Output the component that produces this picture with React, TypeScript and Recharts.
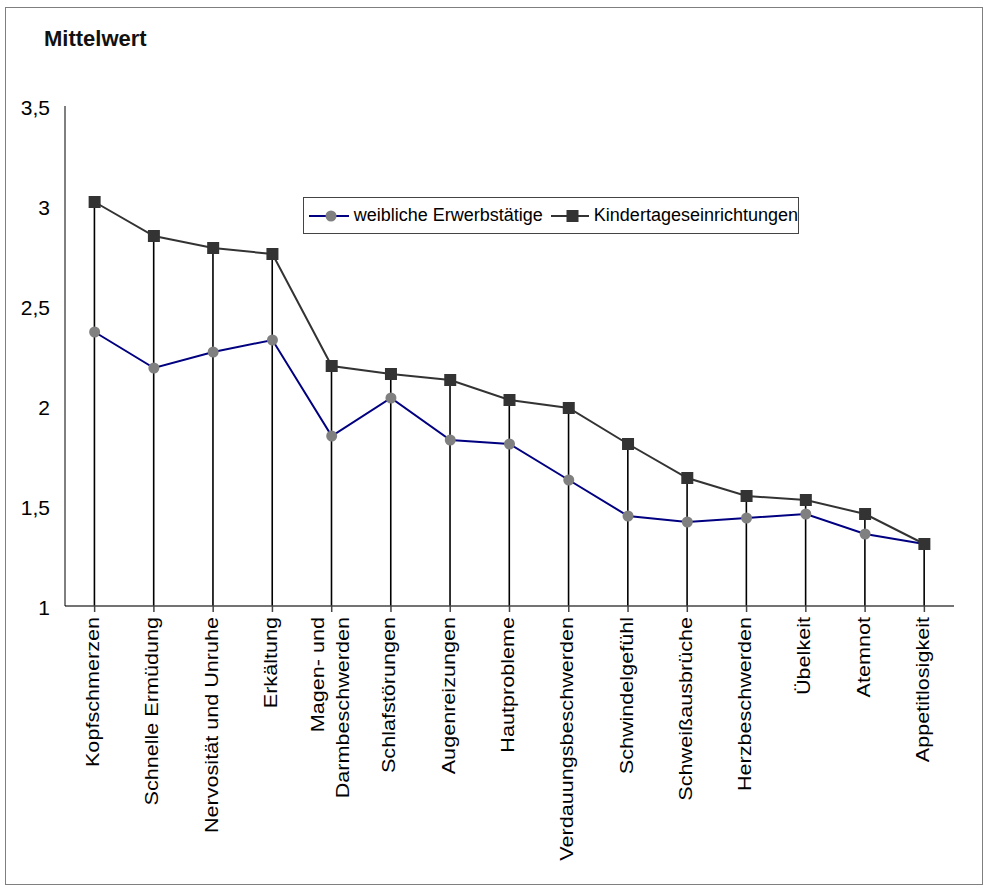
import { Bar, ComposedChart, Line, XAxis, YAxis } from 'recharts';

const categories = [
  'Kopfschmerzen',
  'Schnelle Ermüdung',
  'Nervosität und Unruhe',
  'Erkältung',
  'Magen- und\nDarmbeschwerden',
  'Schlafstörungen',
  'Augenreizungen',
  'Hautprobleme',
  'Verdauungsbeschwerden',
  'Schwindelgefühl',
  'Schweißausbrüche',
  'Herzbeschwerden',
  'Übelkeit',
  'Atemnot',
  'Appetitlosigkeit',
];

const weiblich = [2.37, 2.19, 2.27, 2.33, 1.85, 2.04, 1.83, 1.81, 1.63, 1.45, 1.42, 1.44, 1.46, 1.36, 1.31];
const kita = [3.02, 2.85, 2.79, 2.76, 2.2, 2.16, 2.13, 2.03, 1.99, 1.81, 1.64, 1.55, 1.53, 1.46, 1.31];

const yTicks = [1, 1.5, 2, 2.5, 3, 3.5];

const seriesNames = ['weibliche Erwerbstätige', 'Kindertageseinrichtungen'];

const data = categories.map((name, i) => ({ name, weiblich: weiblich[i], kita: kita[i] }));

const FONT = '"Liberation Sans", Arial, sans-serif';

function CategoryTick({ x, y, payload }: any) {
  const lines = String(payload.value).split('\n');
  const lineH = 25;
  return (
    <g transform={`translate(${x},${y + 3})`}>
      <text transform="rotate(-90) scale(1.2,1)" textAnchor="end" fontSize={18} fontFamily={FONT} fill="#000">
        {lines.map((l, i) => (
          <tspan key={i} x={0} y={4.5 + (i - (lines.length - 1) / 2) * lineH}>
            {l}
          </tspan>
        ))}
      </text>
    </g>
  );
}

function ValueTick({ x, y, payload }: any) {
  return (
    <text x={x} y={y} dy="0.42em" textAnchor="end" fontSize={21} fontFamily={FONT} fill="#000">
      {String(payload.value).replace('.', ',')}
    </text>
  );
}

function DropLine({ x, y, width, height }: any) {
  const cx = x + width / 2;
  return <line x1={cx} x2={cx} y1={y} y2={y + height} stroke="#000" strokeWidth={1.6} />;
}

function CircleDot({ cx, cy, index }: any) {
  return <circle key={`c${index}`} cx={cx} cy={cy} r={5.5} fill="#808080" />;
}

function SquareDot({ cx, cy, index }: any) {
  return <rect key={`s${index}`} x={cx - 6} y={cy - 6} width={12} height={12} fill="#333333" />;
}

function LegendBox() {
  return (
    <div
      style={{
        position: 'absolute',
        left: 297,
        top: 189,
        width: 494,
        height: 35,
        border: '1px solid #444',
        background: '#fff',
        display: 'flex',
        alignItems: 'center',
        fontFamily: FONT,
        fontSize: 18,
        color: '#000',
        whiteSpace: 'nowrap',
      }}
    >
      <svg width={45} height={14} style={{ marginLeft: 5 }}>
        <line x1={0} x2={45} y1={7} y2={7} stroke="#000080" strokeWidth={2} />
        <circle cx={22} cy={7} r={5.5} fill="#808080" />
      </svg>
      <span style={{ marginLeft: 5 }}>{seriesNames[0]}</span>
      <svg width={43} height={14} style={{ marginLeft: 8 }}>
        <line x1={0} x2={43} y1={7} y2={7} stroke="#333" strokeWidth={2} />
        <rect x={15.5} y={1} width={12} height={12} fill="#333" />
      </svg>
      <span style={{ marginLeft: 5 }}>{seriesNames[1]}</span>
    </div>
  );
}

export default function App() {
  return (
    <div
      style={{
        position: 'absolute',
        left: 5,
        top: 7,
        width: 976,
        height: 876,
        border: '1px solid #7f7f7f',
        background: '#fff',
      }}
    >
      <div
        style={{
          position: 'absolute',
          left: 38,
          top: 19,
          fontFamily: FONT,
          fontSize: 22,
          fontWeight: 'bold',
          lineHeight: '23px',
          color: '#111',
        }}
      >
        Mittelwert
      </div>
      <ComposedChart
        width={976}
        height={876}
        data={data}
        margin={{ top: 98, right: 28, left: 0, bottom: 0 }}
      >
        <XAxis
          dataKey="name"
          interval={0}
          height={278}
          tick={<CategoryTick />}
          tickSize={6}
          axisLine={{ stroke: '#444', strokeWidth: 1.5 }}
          tickLine={{ stroke: '#444', strokeWidth: 1.5 }}
        />
        <YAxis
          type="number"
          domain={[1, 3.5]}
          ticks={yTicks}
          width={59}
          tickLine={false}
          tickSize={6}
          tickMargin={9}
          tick={<ValueTick />}
          axisLine={{ stroke: '#000', strokeWidth: 1 }}
        />
        <Bar dataKey="kita" shape={<DropLine />} isAnimationActive={false} legendType="none" />
        <Line
          type="linear"
          dataKey="weiblich"
          name={seriesNames[0]}
          stroke="#000080"
          strokeWidth={2}
          dot={<CircleDot />}
          activeDot={false}
          isAnimationActive={false}
        />
        <Line
          type="linear"
          dataKey="kita"
          name={seriesNames[1]}
          stroke="#333333"
          strokeWidth={2}
          dot={<SquareDot />}
          activeDot={false}
          isAnimationActive={false}
        />
      </ComposedChart>
      <LegendBox />
    </div>
  );
}
